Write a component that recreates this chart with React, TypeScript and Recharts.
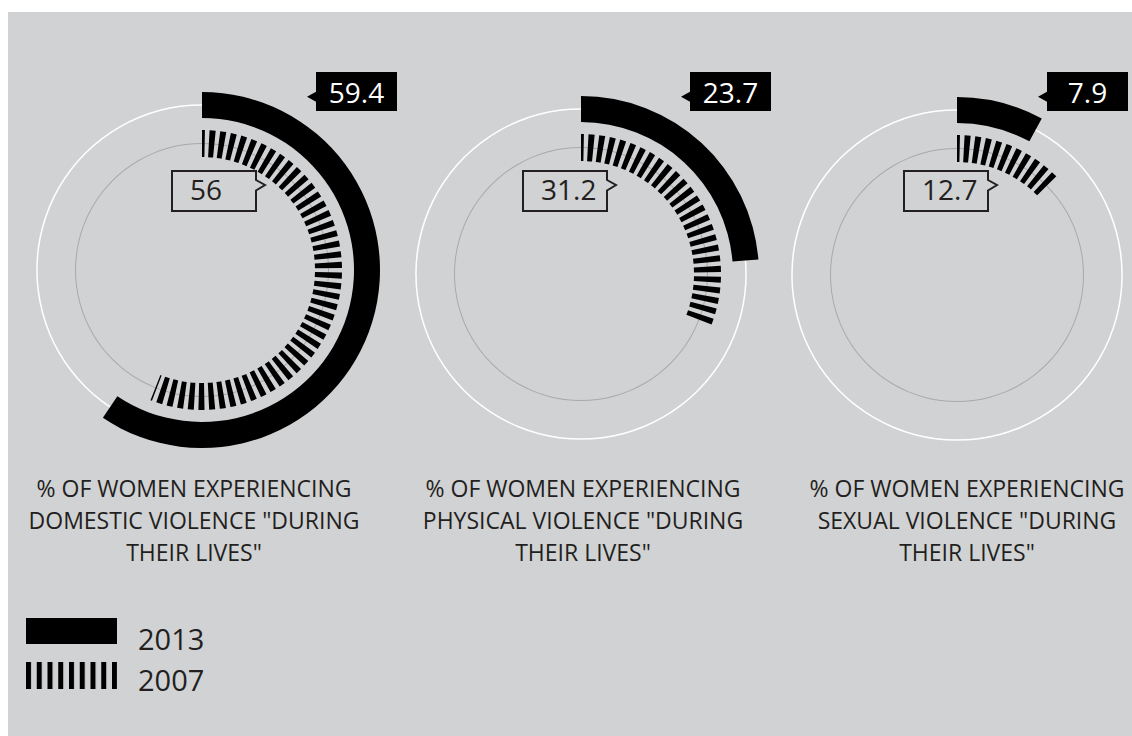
import React from 'react';
import { PieChart, Pie, Cell } from 'recharts';

// survey values, % of women
const SERIES = ['2013', '2007'];
const VALUES_2013 = [59.4, 23.7, 7.9];
const VALUES_2007 = [56, 31.2, 12.7];
const TITLES = [
  ['% OF WOMEN EXPERIENCING', 'DOMESTIC VIOLENCE "DURING', 'THEIR LIVES"'],
  ['% OF WOMEN EXPERIENCING', 'PHYSICAL VIOLENCE "DURING', 'THEIR LIVES"'],
  ['% OF WOMEN EXPERIENCING', 'SEXUAL VIOLENCE "DURING', 'THEIR LIVES"'],
];
const FULL = [{ name: 'total', value: 100 }];

// layout (px inside the grey panel)
const W = 1124;
const H = 724;
const CENTERS = [
  { cx: 189, cy: 253 },
  { cx: 568, cy: 257 },
  { cx: 944, cy: 258 },
];
const TAG_2013_DX = [114, 109, 90];
const TAG_2007_DX = [-30, -58, -53];
const TITLE_X = [186, 575, 959];

const BG = '#d1d2d4';
const INK = '#231f20';
const FONT = '"Open Sans", sans-serif';

const polar = (cx: number, cy: number, r: number, a: number) => ({
  x: cx + r * Math.cos((-a * Math.PI) / 180),
  y: cy + r * Math.sin((-a * Math.PI) / 180),
});

const tag2013 = (i: number) => (p: any) => {
  if (p.index !== 0) return null;
  const bx = p.cx + TAG_2013_DX[i];
  const by = 60;
  const w = 81;
  const h = 39;
  return (
    <g>
      <path
        d={`M${bx},${by} H${bx + w} V${by + h} H${bx} V${by + 29.7} L${bx - 9},${by + 24.7} L${bx},${by + 19.7} Z`}
        fill="#000"
      />
      <text x={bx + w / 2} y={by + 30.5} textAnchor="middle" fill="#fff" fontSize={28} fontFamily={FONT}>
        {VALUES_2013[i]}
      </text>
    </g>
  );
};

const hatch2007 = (i: number) => (p: any) => {
  if (p.index !== 0) return null;
  const r = (p.innerRadius + p.outerRadius) / 2;
  const s = polar(p.cx, p.cy, r, p.startAngle);
  const e = polar(p.cx, p.cy, r, p.endAngle);
  const large = Math.abs(p.startAngle - p.endAngle) > 180 ? 1 : 0;
  const bx = p.cx + TAG_2007_DX[i];
  const by = 159;
  const w = 84;
  const h = 40;
  return (
    <g>
      <path
        d={`M${s.x},${s.y} A${r},${r} 0 ${large} 1 ${e.x},${e.y}`}
        fill="none"
        stroke="#000"
        strokeWidth={p.outerRadius - p.innerRadius}
        strokeDasharray="5.5 4.2"
        strokeDashoffset={2.8}
      />
      <path
        d={`M${bx},${by} H${bx + w} V${by + 9} L${bx + w + 9},${by + 14} L${bx + w},${by + 19.5} V${by + h} H${bx} Z`}
        fill="none"
        stroke={INK}
        strokeWidth={2}
      />
      <text x={bx + 18} y={by + 29} fill={INK} fontSize={28} fontFamily={FONT}>
        {VALUES_2007[i]}
      </text>
    </g>
  );
};

const Legend2 = () => (
  <svg width={100} height={80} style={{ position: 'absolute', left: 18, top: 606 }}>
    <defs>
      <pattern id="legendHatch" width={10.75} height={27} patternUnits="userSpaceOnUse">
        <rect x={0} y={0} width={5} height={27} fill="#000" />
      </pattern>
    </defs>
    <rect x={0} y={0} width={91} height={26} fill="#000" />
    <rect x={0} y={44} width={91} height={27} fill="url(#legendHatch)" />
  </svg>
);

export default function App() {
  return (
    <div>
      <style>{'html,body{margin:0;padding:0;overflow:hidden}'}</style>
      <div
        style={{
          position: 'absolute',
          left: 8,
          top: 12,
          width: W,
          height: H,
          background: BG,
          fontFamily: FONT,
          overflow: 'hidden',
        }}
      >
        <PieChart width={W} height={460} style={{ position: 'absolute', left: 0, top: 0 }}>
          {CENTERS.map((c, i) => [
            <Pie
              key={`w${i}`}
              data={FULL}
              dataKey="value"
              cx={c.cx}
              cy={c.cy}
              innerRadius={164.3}
              outerRadius={165.8}
              startAngle={90}
              endAngle={-270}
              fill="#ffffff"
              stroke="none"
              isAnimationActive={false}
            />,
            <Pie
              key={`g${i}`}
              data={FULL}
              dataKey="value"
              cx={c.cx}
              cy={c.cy}
              innerRadius={126}
              outerRadius={127}
              startAngle={90}
              endAngle={-270}
              fill="#a9a9ab"
              stroke="none"
              isAnimationActive={false}
            />,
            <Pie
              key={`a${i}`}
              data={[
                { name: SERIES[0], value: VALUES_2013[i] },
                { name: 'rest', value: 100 - VALUES_2013[i] },
              ]}
              dataKey="value"
              cx={c.cx}
              cy={c.cy}
              innerRadius={152}
              outerRadius={178}
              startAngle={90}
              endAngle={-270}
              stroke="none"
              label={tag2013(i)}
              labelLine={false}
              isAnimationActive={false}
            >
              <Cell fill="#000" />
              <Cell fill="transparent" />
            </Pie>,
            <Pie
              key={`b${i}`}
              data={[
                { name: SERIES[1], value: VALUES_2007[i] },
                { name: 'rest', value: 100 - VALUES_2007[i] },
              ]}
              dataKey="value"
              cx={c.cx}
              cy={c.cy}
              innerRadius={113}
              outerRadius={140}
              startAngle={90}
              endAngle={-270}
              stroke="none"
              label={hatch2007(i)}
              labelLine={false}
              isAnimationActive={false}
            >
              <Cell fill="transparent" />
              <Cell fill="transparent" />
            </Pie>,
          ])}
        </PieChart>

        {TITLES.map((lines, i) => (
          <div
            key={i}
            style={{
              position: 'absolute',
              left: TITLE_X[i] - 200,
              width: 400,
              top: 460,
              textAlign: 'center',
              fontSize: 23,
              lineHeight: '32px',
              color: INK,
              whiteSpace: 'nowrap',
            }}
          >
            {lines.map((l, k) => (
              <div key={k}>{l}</div>
            ))}
          </div>
        ))}

        <Legend2 />
        <div style={{ position: 'absolute', left: 130, top: 607, fontSize: 29, lineHeight: '40px', color: INK }}>
          {SERIES[0]}
        </div>
        <div style={{ position: 'absolute', left: 130, top: 648, fontSize: 29, lineHeight: '40px', color: INK }}>
          {SERIES[1]}
        </div>
      </div>
    </div>
  );
}
